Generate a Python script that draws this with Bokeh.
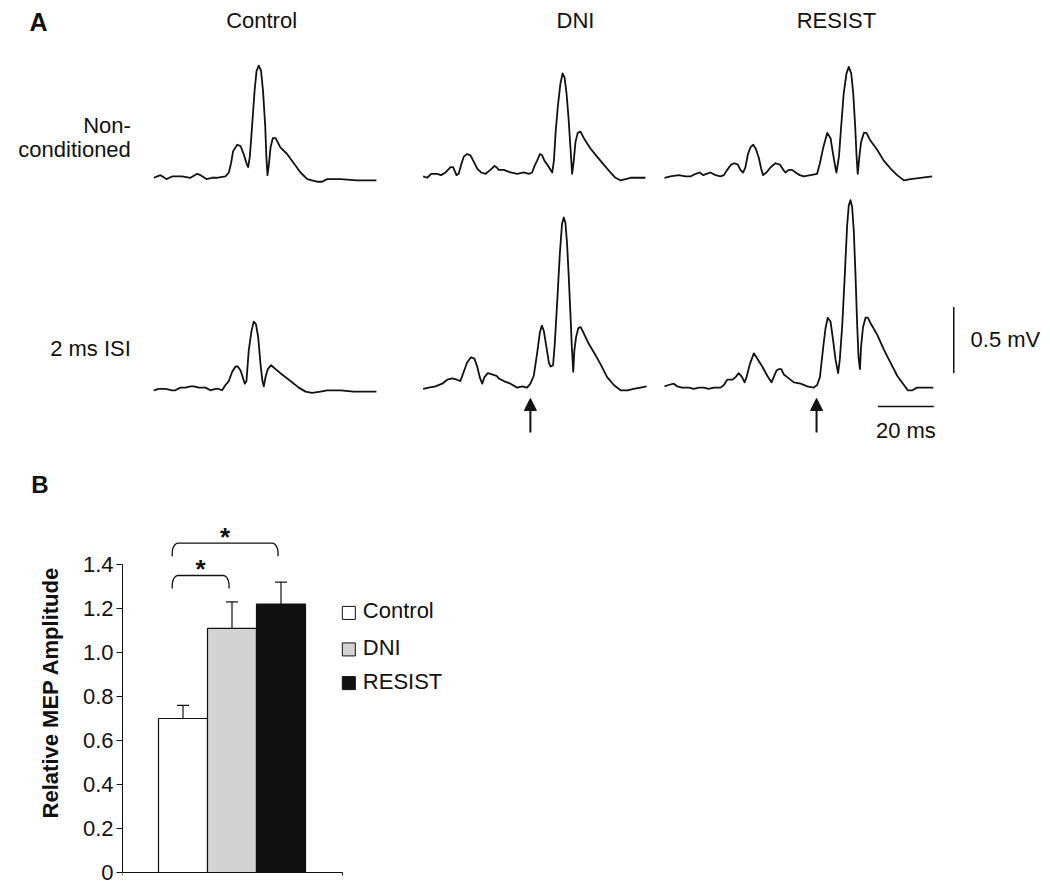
import numpy as np
from bokeh.plotting import figure
from bokeh.models import Range1d, FixedTicker, Whisker, TeeHead, Arrow, NormalHead, ColumnDataSource
from bokeh.layouts import column
from bokeh.embed import file_html
from bokeh.resources import INLINE
from bokeh.core.properties import value

FONT = "Liberation Sans"

# ---------------- Panel A data: MEP traces (t in ms, amplitude in mV) ----------------
conditions = ["Control", "DNI", "RESIST"]
row_labels = [["Non-", "conditioned"], ["2 ms ISI"]]

ctrl_nc = [(0, 0.00), (2.4, 0.02), (4.5, -0.01), (6.5, 0.01), (10.1, 0.01), (13.1, 0.00), (15.5, 0.03),
           (16.7, 0.02), (18.8, -0.01), (20.8, 0.00), (22.4, 0.00), (25.6, 0.01), (26.8, 0.04), (27.6, 0.11),
           (28.3, 0.20), (29.8, 0.25), (31.0, 0.24), (32.1, 0.18), (33.1, 0.11), (33.7, 0.08), (34.3, 0.16),
           (35.1, 0.39), (36.0, 0.66), (36.7, 0.81), (37.5, 0.85), (38.3, 0.81), (39.0, 0.66), (39.8, 0.39),
           (40.2, 0.16), (40.6, 0.02), (41.1, 0.10), (41.7, 0.23), (42.5, 0.30), (43.5, 0.30), (45.2, 0.23),
           (47.6, 0.18), (50.0, 0.11), (52.4, 0.04), (54.8, -0.01), (56.5, -0.02), (58.3, -0.03), (60.1, -0.03),
           (61.9, -0.01), (66.7, -0.01), (72.6, -0.02), (79.5, -0.02)]

dni_nc = [(0, 0.01), (1.4, 0.00), (2.9, 0.03), (5.0, 0.03), (6.4, 0.02), (8.0, 0.04), (9.8, 0.08), (10.7, 0.08),
          (11.9, 0.02), (12.7, 0.03), (13.6, 0.10), (14.5, 0.16), (15.7, 0.18), (16.9, 0.17), (18.1, 0.12),
          (19.3, 0.07), (20.7, 0.04), (22.3, 0.03), (24.0, 0.06), (25.5, 0.09), (26.2, 0.08), (27.0, 0.06),
          (28.8, 0.06), (31.2, 0.04), (33.6, 0.03), (36.0, 0.04), (37.7, 0.03), (38.9, 0.04), (39.8, 0.09),
          (40.7, 0.13), (41.7, 0.18), (42.5, 0.17), (43.3, 0.13), (44.3, 0.10), (45.2, 0.07), (46.1, 0.04),
          (46.7, 0.13), (47.3, 0.34), (48.1, 0.54), (49.0, 0.71), (49.8, 0.79), (50.5, 0.76), (51.2, 0.64),
          (51.9, 0.46), (52.6, 0.23), (53.2, 0.03), (53.8, 0.13), (54.4, 0.27), (55.2, 0.34), (56.2, 0.35),
          (57.4, 0.30), (59.8, 0.22), (62.1, 0.16), (64.5, 0.10), (66.9, 0.04), (68.7, 0.00), (70.5, -0.02),
          (72.3, -0.01), (74.0, 0.00), (79.4, 0.00)]

resist_nc = [(0, 0.00), (2.1, 0.01), (5.1, 0.02), (7.5, 0.01), (9.3, 0.01), (11.1, 0.03), (12.6, 0.04),
             (13.8, 0.02), (15.0, 0.03), (16.4, 0.04), (18.2, 0.02), (20.0, 0.01), (21.2, 0.02), (22.4, 0.06),
             (23.8, 0.10), (25.0, 0.11), (26.2, 0.10), (27.1, 0.06), (28.1, 0.04), (28.9, 0.08), (29.8, 0.18),
             (30.7, 0.23), (31.7, 0.25), (32.6, 0.22), (33.7, 0.15), (34.5, 0.07), (35.2, 0.02), (36.4, 0.04),
             (37.9, 0.08), (39.6, 0.11), (41.2, 0.10), (42.4, 0.06), (43.2, 0.04), (44.4, 0.06), (45.6, 0.06),
             (46.8, 0.04), (48.3, 0.02), (49.8, 0.01), (52.1, 0.02), (54.5, 0.03), (55.5, 0.11), (56.7, 0.23),
             (58.1, 0.34), (59.3, 0.30), (60.2, 0.18), (61.0, 0.08), (61.4, 0.04), (62.3, 0.16), (63.1, 0.39),
             (64.0, 0.64), (65.0, 0.79), (65.8, 0.84), (66.7, 0.79), (67.4, 0.64), (68.1, 0.39), (68.6, 0.16),
             (69.0, 0.03), (69.6, 0.16), (70.2, 0.27), (71.2, 0.34), (72.1, 0.34), (73.6, 0.28), (76.0, 0.21),
             (78.3, 0.13), (80.7, 0.07), (83.1, 0.02), (85.5, -0.02), (87.9, -0.01), (91.4, 0.00), (95.6, 0.01)]

ctrl_isi = [(0, -0.01), (1.8, 0.00), (4.2, 0.00), (6.5, -0.01), (7.7, -0.01), (9.5, 0.01), (11.3, 0.01),
            (13.1, 0.02), (14.3, 0.02), (16.1, 0.01), (18.5, 0.01), (20.2, -0.01), (22.0, 0.00), (23.2, 0.00),
            (24.4, -0.01), (25.6, 0.03), (26.8, 0.06), (28.0, 0.13), (29.2, 0.17), (30.0, 0.17), (31.0, 0.14),
            (31.9, 0.08), (32.5, 0.04), (33.1, 0.06), (33.9, 0.29), (34.9, 0.44), (35.7, 0.51), (36.5, 0.49),
            (37.3, 0.39), (38.1, 0.19), (38.8, 0.06), (39.3, 0.02), (39.9, 0.09), (40.7, 0.15), (41.9, 0.18),
            (43.5, 0.15), (45.8, 0.11), (48.8, 0.06), (51.8, 0.01), (54.2, -0.02), (56.5, -0.03), (59.5, -0.02),
            (61.9, -0.01), (66.7, -0.01), (71.4, -0.02), (74.4, -0.02), (79.5, -0.02)]

dni_isi = [(0, 0.00), (2.0, 0.01), (4.4, 0.02), (6.8, 0.04), (8.6, 0.07), (10.4, 0.08), (12.1, 0.07),
           (13.3, 0.06), (14.5, 0.13), (15.7, 0.20), (17.1, 0.24), (18.3, 0.23), (19.3, 0.17), (20.2, 0.09),
           (21.1, 0.04), (21.9, 0.09), (23.1, 0.12), (24.6, 0.11), (26.2, 0.10), (27.0, 0.08), (28.8, 0.06),
           (31.2, 0.04), (33.6, 0.01), (35.4, 0.02), (37.1, 0.01), (38.3, 0.04), (39.5, 0.10), (40.7, 0.27),
           (41.7, 0.43), (42.4, 0.48), (43.1, 0.44), (44.0, 0.32), (44.9, 0.20), (45.5, 0.17), (46.4, 0.18),
           (47.0, 0.34), (47.9, 0.67), (48.8, 1.02), (49.6, 1.25), (50.2, 1.30), (50.8, 1.26), (51.4, 1.10),
           (52.0, 0.85), (52.6, 0.57), (53.1, 0.32), (53.6, 0.13), (54.0, 0.29), (54.6, 0.39), (55.4, 0.46),
           (56.2, 0.47), (57.4, 0.42), (59.2, 0.34), (60.9, 0.28), (63.3, 0.19), (65.7, 0.09), (68.1, 0.03),
           (70.5, -0.01), (72.9, -0.01), (75.2, 0.00), (77.6, 0.01), (79.8, 0.02)]

resist_isi = [(0, 0.02), (1.5, 0.03), (3.3, 0.04), (4.5, 0.02), (6.3, 0.01), (8.7, 0.01), (10.5, 0.00),
              (12.3, 0.01), (14.0, 0.01), (15.8, 0.00), (17.6, 0.01), (20.0, 0.01), (21.2, 0.03), (22.4, 0.07),
              (24.2, 0.07), (25.4, 0.09), (26.5, 0.12), (27.7, 0.09), (28.6, 0.05), (29.3, 0.09), (30.5, 0.19),
              (31.9, 0.27), (33.1, 0.23), (34.9, 0.17), (36.7, 0.10), (38.2, 0.05), (39.0, 0.09), (40.0, 0.14),
              (40.8, 0.15), (41.7, 0.15), (42.6, 0.11), (44.4, 0.08), (46.2, 0.05), (48.6, 0.04), (51.0, 0.02),
              (53.3, 0.01), (54.5, 0.03), (55.5, 0.09), (56.7, 0.32), (57.5, 0.46), (58.3, 0.54), (59.3, 0.51),
              (60.2, 0.37), (61.1, 0.22), (62.0, 0.12), (62.6, 0.22), (63.5, 0.49), (64.4, 0.87), (65.2, 1.23),
              (65.8, 1.39), (66.4, 1.43), (67.0, 1.38), (67.6, 1.20), (68.2, 0.87), (68.8, 0.49), (69.3, 0.24),
              (69.8, 0.15), (70.2, 0.32), (70.9, 0.47), (71.8, 0.54), (72.6, 0.54), (73.8, 0.49), (76.0, 0.41),
              (78.3, 0.30), (80.7, 0.20), (83.1, 0.10), (85.5, 0.03), (86.9, -0.01), (88.5, -0.01), (90.2, 0.01),
              (92.0, 0.01), (96.0, 0.01)]

traces = [[ctrl_nc, dni_nc, resist_nc], [ctrl_isi, dni_isi, resist_isi]]

# conditioning-stimulus arrows (time within ISI trace, ms); None = no arrow
arrow_times = [None, 38.3, 54.3]
scale_ms = 20      # horizontal scale bar
scale_mv = 0.5     # vertical scale bar

# ---------------- Panel B data ----------------
groups = ["Control", "DNI", "RESIST"]
mep_mean = [0.70, 1.11, 1.22]
mep_sem = [0.06, 0.12, 0.10]
bar_colors = ["#ffffff", "#d3d3d3", "#111111"]
y_ticks = [0, 0.2, 0.4, 0.6, 0.8, 1.0, 1.2, 1.4]
y_tick_labels = ["0", "0.2", "0.4", "0.6", "0.8", "1.0", "1.2", "1.4"]
sig_pairs = [(0, 1), (0, 2)]
sig_marks = ["*", "*"]

# ---------------- layout constants ----------------
col_offset = [0.0, 96.2, 182.4]     # ms, horizontal placement of the three columns
row_offset = [1.6, 0.0]             # mV, vertical placement of the two rows
W = 1048

pa = figure(width=W, height=500, x_range=Range1d(-54.75, 319.54), y_range=Range1d(-0.845, 2.943),
            output_backend="svg", toolbar_location=None, x_axis_location=None, y_axis_location=None,
            min_border=0)
pa.frame_align = False
pa.outline_line_color = None
pa.grid.grid_line_color = None

for r in range(2):
    for c in range(3):
        tr = traces[r][c]
        t = np.array([p[0] for p in tr]) + col_offset[c]
        v = np.array([p[1] for p in tr]) + row_offset[r]
        pa.line(t, v, line_color="#111111", line_width=1.8, line_join="round")

# column headers
pa.text(x=[38.5, 150.6, 243.8], y=[2.790] * 3, text=conditions, text_font=value(FONT),
        text_font_size="22px", text_align="center", text_baseline="alphabetic", text_color="#111111")
# row labels
pa.text(x=[-8.2, -8.2, -8.2], y=[1.994, 1.815, 0.310], text=row_labels[0] + row_labels[1],
        text_font=value(FONT), text_font_size="22px", text_align="right", text_baseline="alphabetic",
        text_color="#111111")
# panel letters
pa.text(x=[-44.4], y=[2.779], text=["A"], text_font=value(FONT), text_font_size="25px",
        text_font_style="bold", text_baseline="alphabetic", text_color="#111111")
pa.text(x=[-43.8], y=[-0.721], text=["B"], text_font=value(FONT), text_font_size="24px",
        text_font_style="bold", text_baseline="alphabetic", text_color="#111111")

# arrows under ISI traces
for c, at in enumerate(arrow_times):
    if at is None:
        continue
    x = at + col_offset[c]
    pa.add_layout(Arrow(end=NormalHead(size=12, fill_color="#111111", line_color="#111111", line_width=1),
                        x_start=x, y_start=-0.33, x_end=x, y_end=-0.072,
                        line_color="#111111", line_width=2))

# scale bars
sb_x0, sb_y = 258.6, -0.133
pa.segment(x0=[sb_x0], y0=[sb_y], x1=[sb_x0 + scale_ms], y1=[sb_y], line_color="#111111", line_width=1.5)
vb_x, vb_y0 = 285.7, 0.12
pa.segment(x0=[vb_x], y0=[vb_y0], x1=[vb_x], y1=[vb_y0 + scale_mv], line_color="#111111", line_width=1.5)
pa.text(x=[sb_x0 + scale_ms / 2], y=[-0.316], text=[f"{scale_ms} ms"], text_font=value(FONT),
        text_font_size="22px", text_align="center", text_baseline="alphabetic", text_color="#111111")
pa.text(x=[291.7], y=[0.378], text=[f"{scale_mv} mV"], text_font=value(FONT),
        text_font_size="22px", text_align="left", text_baseline="alphabetic", text_color="#111111")

# ---------------- Panel B figure ----------------
x0_axis, x1_axis = -1.2347, 3.255
pb = figure(width=W, height=384, x_range=Range1d(x0_axis, x0_axis + (W - 122) / 49.0),
            y_range=Range1d(-0.0545, 1.691),
            output_backend="svg", toolbar_location=None, x_axis_location=None,
            min_border_left=122, min_border_right=0, min_border_top=0, min_border_bottom=0)
pb.frame_align = False
pb.outline_line_color = None
pb.grid.grid_line_color = None

xs = list(range(len(groups)))
src = ColumnDataSource(dict(x=xs, top=mep_mean, upper=[m + s for m, s in zip(mep_mean, mep_sem)],
                            color=bar_colors, name=groups))
pb.vbar(x="x", top="top", width=1.0, bottom=0, fill_color="color", line_color="#111111",
        line_width=1.2, source=src)
pb.add_layout(Whisker(base="x", upper="upper", lower="top", source=src, dimension="height",
                      line_color="#111111", line_width=1.2,
                      upper_head=TeeHead(size=12, line_color="#111111", line_width=1.2),
                      lower_head=None))

ya = pb.yaxis[0]
ya.ticker = FixedTicker(ticks=y_ticks)
ya.major_label_overrides = {t: l for t, l in zip(y_ticks, y_tick_labels)}
ya.bounds = (y_ticks[0], y_ticks[-1])
ya.major_tick_out = 6
ya.major_tick_in = 0
ya.minor_tick_out = 0
ya.minor_tick_in = 0
ya.axis_line_color = "#111111"
ya.major_tick_line_color = "#111111"
ya.major_label_standoff = 3
ya.major_label_text_font = FONT
ya.major_label_text_font_size = "22px"
ya.major_label_text_color = "#111111"
ya.axis_label = "Relative MEP Amplitude"
ya.axis_label_text_font = FONT
ya.axis_label_text_font_size = "22px"
ya.axis_label_text_font_style = "bold"
ya.axis_label_text_color = "#111111"
ya.axis_label_standoff = 17

# x axis baseline with end ticks
tick_len = 0.0136
pb.segment(x0=[x0_axis], y0=[0], x1=[x1_axis], y1=[0], line_color="#111111", line_width=1)
pb.segment(x0=[x0_axis, x1_axis], y0=[0, 0], x1=[x0_axis, x1_axis], y1=[-tick_len, -tick_len],
           line_color="#111111", line_width=1)

# significance brackets
bracket_y = [1.35, 1.497]
drop, ry, rx = 0.059, 0.045, 0.12
for (a, b), yt, mark in zip(sig_pairs, bracket_y, sig_marks):
    xl, xr = a - 0.22, b - 0.06
    ang = np.linspace(0, np.pi / 2, 10)
    lx = list(xl + rx - rx * np.cos(ang))
    ly = list(yt - ry + ry * np.sin(ang))
    rxs = list(xr - rx + rx * np.cos(ang[::-1]))
    rys = list(yt - ry + ry * np.sin(ang[::-1]))
    bx = [xl] + lx + rxs + [xr]
    by = [yt - drop] + ly + rys + [yt - drop]
    pb.line(bx, by, line_color="#111111", line_width=1.3)
    pb.text(x=[(xl + xr) / 2], y=[yt + 0.03], text=[mark], text_font=value(FONT), text_font_size="26px",
            text_font_style="bold", text_align="center", text_baseline="alphabetic", text_color="#111111")

# legend
leg_x_box, leg_x_text = 3.384, 3.670
leg_y = [1.18, 1.014, 0.861]
pb.rect(x=[leg_x_box] * 3, y=leg_y, width=13, height=13, width_units="screen", height_units="screen",
        fill_color=bar_colors, line_color="#111111", line_width=1)
pb.text(x=[leg_x_text] * 3, y=[v + 0.009 for v in leg_y], text=groups, text_font=value(FONT),
        text_font_size="22px", text_align="left", text_baseline="alphabetic", text_color="#111111")

layout = column(pa, pb, spacing=0)
open("out.html", "w").write(file_html(layout, INLINE))
